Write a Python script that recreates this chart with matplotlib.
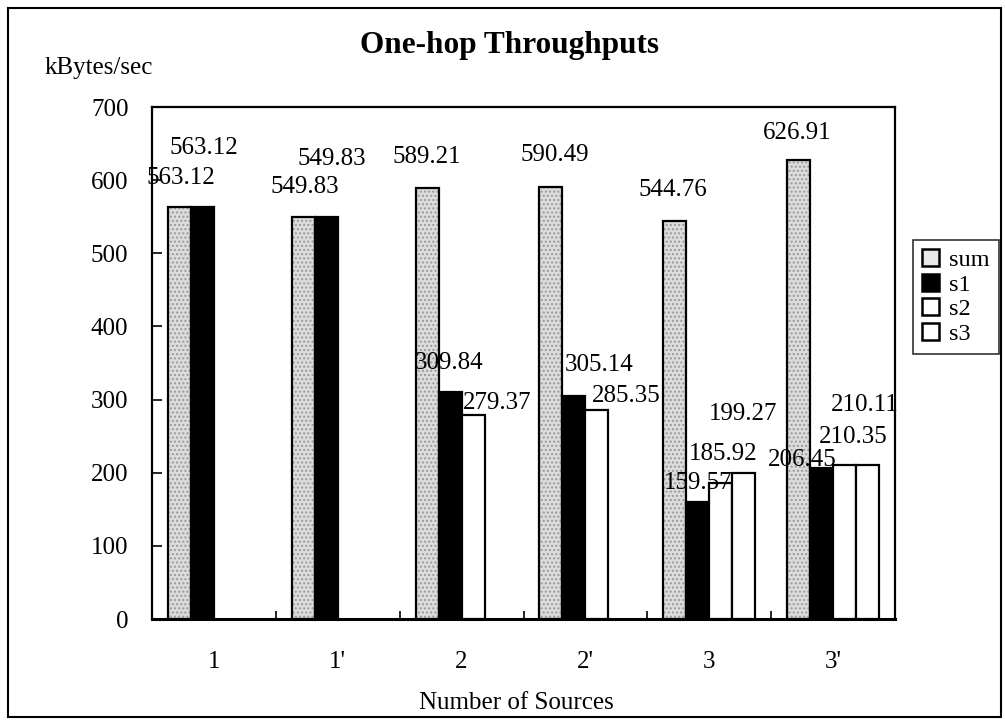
import matplotlib
matplotlib.use("Agg")
import matplotlib.pyplot as plt
from matplotlib.patches import Patch, Rectangle
import numpy as np

plt.rcParams['font.family'] = ['Liberation Serif', 'DejaVu Serif']

categories = ["1", "1'", "2", "2'", "3", "3'"]
series_names = ["sum", "s1", "s2", "s3"]
sum_vals = [563.12, 549.83, 589.21, 590.49, 544.76, 626.91]
s1_vals = [563.12, 549.83, 309.84, 305.14, 159.57, 206.45]
s2_vals = [None, None, 279.37, 285.35, 185.92, 210.35]
s3_vals = [None, None, None, None, 199.27, 210.11]
y_ticks = [0, 100, 200, 300, 400, 500, 600, 700]

# label offsets (pixels) relative to bar-top centre, mimicking the original placement
label_offsets = {
    "sum": [(2, 29), (2, 30), (0, 31), (4, 32), (-2, 31), (-1, 27)],
    "s1": [(1, 59), (6, 58), (-1, 29), (25, 31), (0, 19), (-19, 8)],
    "s2": [None, None, (24, 12), (29, 14), (2, 29), (9, 28)],
    "s3": [None, None, None, None, (-1, 59), (-3, 60)],
}

W, H = 1005, 728
fig = plt.figure(figsize=(W / 100, H / 100), dpi=100)
ax = fig.add_axes([152 / W, 1 - 619 / H, 743 / W, 512 / H])

x = np.arange(len(categories))
bw = 0.186
all_vals = [sum_vals, s1_vals, s2_vals, s3_vals]

for j, (name, vals) in enumerate(zip(series_names, all_vals)):
    xs = x + (j - 1.5) * bw
    v = np.array([np.nan if a is None else a for a in vals], dtype=float)
    if name == "sum":
        ax.bar(xs, v, bw, facecolor='#dcdcdc', edgecolor='#9a9a9a', hatch='....',
               linewidth=0, zorder=2)
        ax.bar(xs, v, bw, facecolor='none', edgecolor='black', linewidth=1.6, zorder=3)
    elif name == "s1":
        ax.bar(xs, v, bw, facecolor='black', edgecolor='black', linewidth=1.6, zorder=3)
    else:
        ax.bar(xs, v, bw, facecolor='white', edgecolor='black', linewidth=1.6, zorder=3)
    for i in range(len(categories)):
        if vals[i] is None or label_offsets[name][i] is None:
            continue
        dx, dy = label_offsets[name][i]
        ax.annotate(f"{vals[i]:.2f}", xy=(xs[i], vals[i]), xytext=(dx, dy),
                    textcoords='offset pixels', ha='center', va='center',
                    fontsize=18, zorder=4)

ax.set_xlim(-0.5, len(categories) - 0.5)
ax.set_ylim(0, 700)
ax.set_yticks(y_ticks)
ax.set_yticklabels([str(t) for t in y_ticks], fontsize=18)
ax.tick_params(axis='y', direction='in', length=7, width=1.2, pad=17)
ax.set_xticks(x)
ax.set_xticklabels(categories, fontsize=18)
ax.tick_params(axis='x', which='major', length=0, pad=23)
ax.set_xticks(np.arange(len(categories) + 1) - 0.5, minor=True)
ax.tick_params(axis='x', which='minor', direction='in', length=6, width=1.2)
for s in ax.spines.values():
    s.set_linewidth(1.6)
ax.spines['bottom'].set_linewidth(2.2)

fig.text(509 / W, 1 - 45 / H, "One-hop Throughputs", ha='center', va='center',
         fontsize=22.5, fontweight='bold')
fig.text(45 / W, 1 - 68 / H, "kBytes/sec", ha='left', va='center', fontsize=18)
fig.text(516 / W, 1 - 703 / H, "Number of Sources", ha='center', va='center', fontsize=18)

handles = [Patch(facecolor='#e8e8e8', edgecolor='black', linewidth=1.8),
           Patch(facecolor='black', edgecolor='black', linewidth=1.8),
           Patch(facecolor='white', edgecolor='black', linewidth=1.8),
           Patch(facecolor='white', edgecolor='black', linewidth=1.8)]
leg = fig.legend(handles, series_names, loc='upper left',
                 bbox_to_anchor=(913 / W, 1 - 240 / H), fontsize=17.5,
                 handlelength=0.7, handleheight=0.7, handletextpad=0.4,
                 labelspacing=0.1, borderpad=0.38, borderaxespad=0,
                 fancybox=False, frameon=True)
leg.get_frame().set_edgecolor('black')
leg.get_frame().set_linewidth(1.2)

fig.patches.append(Rectangle((8 / W, 1 - 717 / H), 993 / W, 709 / H,
                             transform=fig.transFigure, fill=False,
                             edgecolor='black', linewidth=1.5))

fig.savefig("out.png", dpi=100)
